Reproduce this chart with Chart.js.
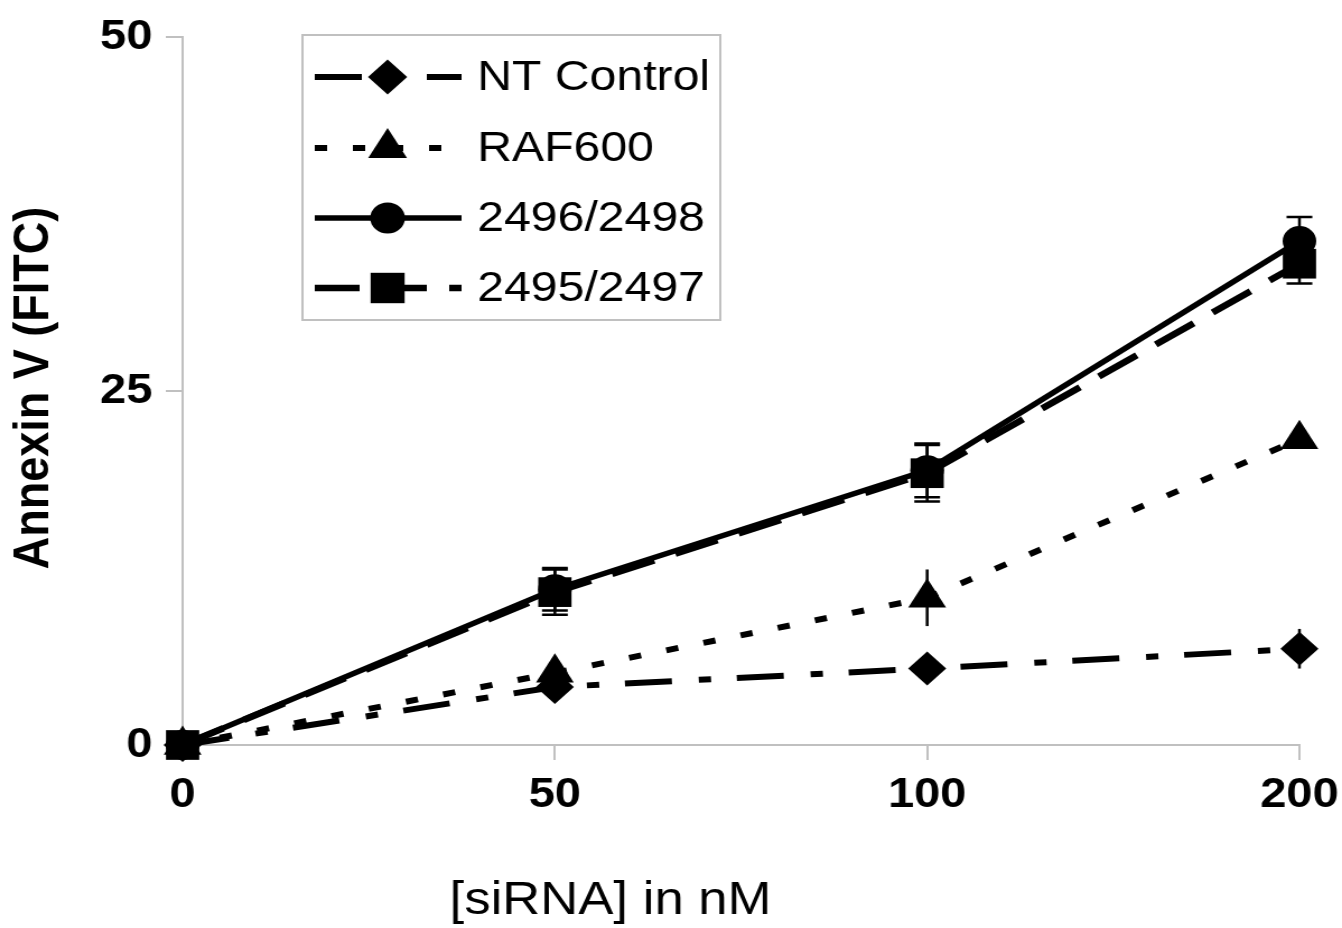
<!DOCTYPE html>
<html>
<head>
<meta charset="utf-8">
<script src="https://cdn.jsdelivr.net/npm/chart.js@4/dist/chart.umd.min.js"></script>
<style>
html, body { margin: 0; padding: 0; background: #fff; }
#annexinChart { display: block; }
</style>
</head>
<body>
<!-- the original picture is stretched sideways, so the canvas is too -->
<canvas id="annexinChart" width="1198" height="928" style="width:1342px;height:928px"></canvas>
<script>
const doses = ['0', '50', '100', '200'];
const yTicks = [0, 25, 50];

const ntControl = [0, 4.1, 5.4, 6.8];
const ntControlErr = [0, 0.4, 0.4, 1.4];
const raf600 = [0, 5.1, 10.4, 21.6];
const raf600Err = [0, 0.5, 2.0, 0.5];
const si2496 = [0, 11.0, 19.4, 35.6];
const si2496Err = [0, 1.5, 1.9, 1.7];
const si2495 = [0, 10.8, 19.2, 34.0];
const si2495Err = [0, 1.6, 2.0, 1.4];

const FONT = '"Liberation Sans", Arial, sans-serif';
Chart.defaults.font.family = FONT;
Chart.defaults.color = '#000';

function series(label, data, errors, style, radius, dash, width, cap) {
    return {
        label: label,
        data: data,
        errors: errors,
        capWidth: cap,
        borderColor: '#000',
        backgroundColor: '#000',
        borderWidth: width,
        borderDash: dash,
        borderCapStyle: 'butt',
        pointStyle: style,
        pointRadius: radius,
        pointHoverRadius: radius,
        pointBackgroundColor: '#000',
        pointBorderColor: '#000',
        pointBorderWidth: 0,
        tension: 0,
        clip: false
    };
}

// error bars, legend box and axis titles
const extras = {
    id: 'extras',
    afterDatasetsDraw(chart) {
        const ctx = chart.ctx;
        const xs = chart.scales.x, ys = chart.scales.y;
        ctx.save();
        ctx.strokeStyle = '#000';
        ctx.lineWidth = 2.5;
        chart.data.datasets.forEach(ds => {
            const c = ds.capWidth / 2;
            ds.data.forEach((v, i) => {
                const e = ds.errors[i];
                if (!e) return;
                const px = xs.getPixelForValue(i);
                const top = ys.getPixelForValue(v + e);
                const bot = ys.getPixelForValue(v - e);
                ctx.beginPath();
                ctx.moveTo(px, top); ctx.lineTo(px, bot);
                if (c) {
                    ctx.moveTo(px - c, top); ctx.lineTo(px + c, top);
                    ctx.moveTo(px - c, bot); ctx.lineTo(px + c, bot);
                }
                ctx.stroke();
            });
        });
        ctx.restore();
    },
    afterDraw(chart) {
        const ctx = chart.ctx;
        ctx.save();

        // legend
        ctx.fillStyle = '#fff';
        ctx.fillRect(270, 35, 373, 285);
        ctx.strokeStyle = '#c0c0c0';
        ctx.lineWidth = 2;
        ctx.strokeRect(270, 35, 373, 285);
        const rows = [77, 148, 218, 288];
        chart.data.datasets.forEach((ds, i) => {
            const ry = rows[i];
            ctx.strokeStyle = '#000';
            ctx.fillStyle = '#000';
            ctx.lineWidth = ds.borderWidth;
            ctx.lineCap = 'butt';
            ctx.setLineDash(ds.borderDash || []);
            ctx.beginPath();
            ctx.moveTo(281, ry);
            ctx.lineTo(412, ry);
            ctx.stroke();
            ctx.setLineDash([]);
            Chart.helpers.drawPoint(ctx, {
                pointStyle: ds.pointStyle, radius: ds.pointRadius + 0.5, rotation: 0, borderWidth: 0
            }, 346, ry);
            ctx.font = '43px ' + FONT;
            ctx.textAlign = 'left';
            ctx.textBaseline = 'middle';
            ctx.fillText(ds.label, 426, ry + 1);
        });

        // axis titles
        ctx.fillStyle = '#000';
        ctx.textAlign = 'center';
        ctx.textBaseline = 'middle';
        ctx.font = '47px ' + FONT;
        ctx.fillText('[siRNA] in nM', 545, 901);
        ctx.translate(31, 388);
        ctx.rotate(-Math.PI / 2);
        ctx.font = 'bold 45px ' + FONT;
        ctx.fillText('Annexin V (FITC)', 0, 0);
        ctx.restore();
    }
};

const ctx = document.getElementById('annexinChart').getContext('2d');
const chart = new Chart(ctx, {
    type: 'line',
    data: {
        labels: doses,
        datasets: [
            series('NT Control', ntControl, ntControlErr, 'rectRot', 17, [42, 24, 11, 23], 6, 0),
            series('RAF600', raf600, raf600Err, 'triangle', 19.5, [11, 23], 6, 0),
            series('2496/2498', si2496, si2496Err, 'circle', 15, [], 5.5, 23),
            series('2495/2497', si2495, si2495Err, 'rect', 21, [40, 20], 6.5, 23)
        ]
    },
    options: {
        responsive: false,
        devicePixelRatio: 1,
        animation: false,
        layout: { padding: { top: 32, right: 38, bottom: 0, left: 0 } },
        plugins: {
            legend: { display: false },
            tooltip: { enabled: false }
        },
        scales: {
            x: {
                type: 'category',
                offset: false,
                grid: { drawOnChartArea: false, drawTicks: true, tickLength: 15, color: '#c0c0c0', lineWidth: 2 },
                border: { display: true, color: '#c0c0c0', width: 2 },
                ticks: { font: { size: 42, weight: 'bold' }, color: '#000', padding: 10, maxRotation: 0, autoSkip: false },
                afterFit(axis) {
                    axis.height = 183;
                    axis.paddingLeft = 0;
                    axis.paddingRight = 0;
                }
            },
            y: {
                min: 0,
                max: 50,
                afterBuildTicks(axis) { axis.ticks = yTicks.map(v => ({ value: v })); },
                grid: { drawOnChartArea: false, drawTicks: true, tickLength: 15, color: '#c0c0c0', lineWidth: 2 },
                border: { display: true, color: '#c0c0c0', width: 2 },
                ticks: { font: { size: 42, weight: 'bold' }, color: '#000', padding: 12 },
                afterFit(axis) { axis.width = 163; }
            }
        }
    },
    plugins: [extras]
});
</script>
</body>
</html>
